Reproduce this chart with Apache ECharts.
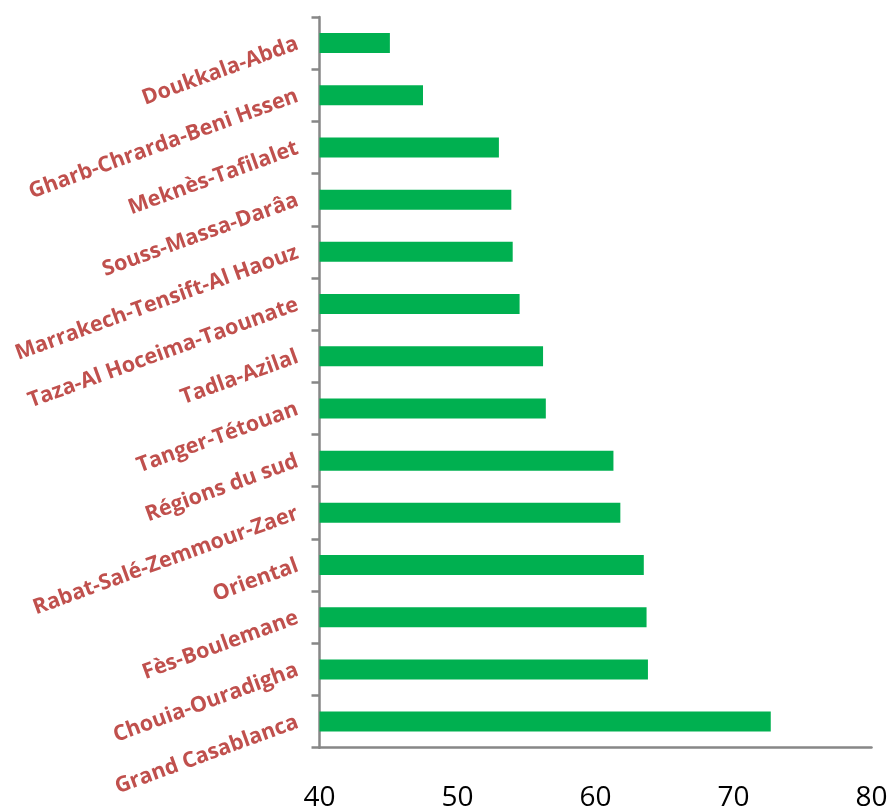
<!DOCTYPE html>
<html>
<head>
<meta charset="utf-8">
<script src="https://cdn.jsdelivr.net/npm/echarts@6/dist/echarts.min.js"></script>
<style>
  html, body { margin: 0; padding: 0; background: #ffffff; }
  #chart { width: 895px; height: 812px; }
</style>
</head>
<body>
<div id="chart"></div>
<script>
// Regions, listed top to bottom
const regions = [
  'Doukkala-Abda',
  'Gharb-Chrarda-Beni Hssen',
  'Meknès-Tafilalet',
  'Souss-Massa-Darâa',
  'Marrakech-Tensift-Al Haouz',
  'Taza-Al Hoceima-Taounate',
  'Tadla-Azilal',
  'Tanger-Tétouan',
  'Régions du sud',
  'Rabat-Salé-Zemmour-Zaer',
  'Oriental',
  'Fès-Boulemane',
  'Chouia-Ouradigha',
  'Grand Casablanca'
];

// Value for each region, same order
const values = [45.1, 47.5, 53.0, 53.9, 54.0, 54.5, 56.2, 56.4, 61.3, 61.8, 63.5, 63.7, 63.8, 72.7];

// Value axis range and step
const xMin = 40;
const xMax = 80;
const xStep = 10;

const chart = echarts.init(document.getElementById('chart'), null, { renderer: 'canvas' });

chart.setOption({
  animation: false,
  backgroundColor: '#ffffff',
  grid: { left: 319.5, right: 23.5, top: 17, bottom: 64.3, containLabel: false },
  xAxis: {
    type: 'value',
    min: xMin,
    max: xMax,
    interval: xStep,
    axisLine: { show: true, lineStyle: { color: '#878787', width: 2.5 } },
    axisTick: { show: false },
    splitLine: { show: false },
    axisLabel: {
      margin: 36,
      color: '#000000',
      fontFamily: 'Open Sans',
      fontSize: 28
    }
  },
  yAxis: {
    type: 'category',
    data: regions,
    inverse: true,
    axisLine: { show: true, lineStyle: { color: '#878787', width: 2.5 } },
    axisTick: { show: true, length: 8, lineStyle: { color: '#878787', width: 2.5 } },
    splitLine: { show: false },
    axisLabel: {
      rotate: 20,
      margin: 22,
      color: '#C0504D',
      fontFamily: 'Open Sans',
      fontWeight: 'bold',
      fontSize: 21.5
    }
  },
  series: [{
    type: 'bar',
    data: values,
    barWidth: 20,
    itemStyle: { color: '#00B050' }
  }]
});
</script>
</body>
</html>
